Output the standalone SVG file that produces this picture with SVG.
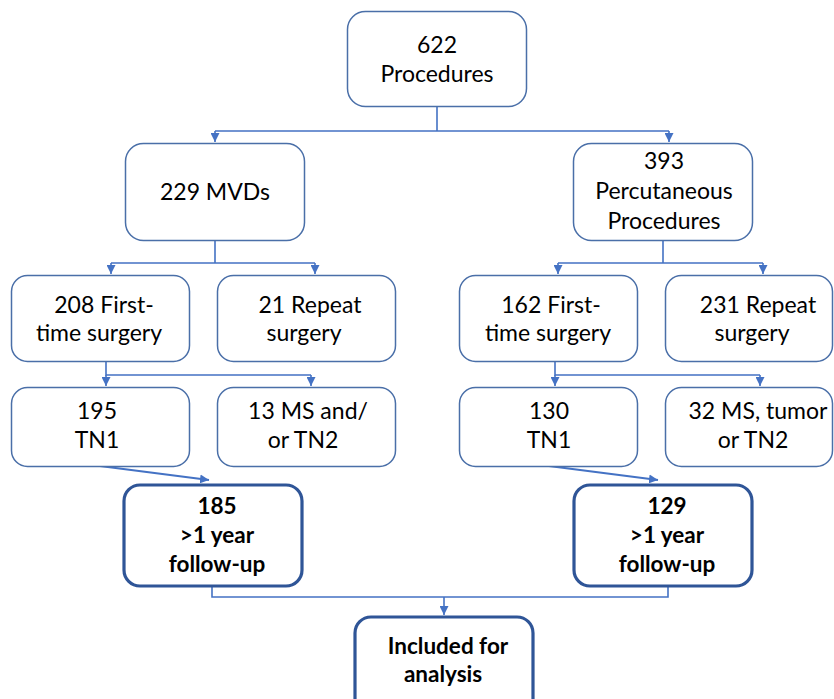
<svg xmlns="http://www.w3.org/2000/svg" width="834" height="699" viewBox="0 0 834 699">
<defs>
<marker id="ah" viewBox="0 0 10 10" refX="10" refY="5" markerWidth="9" markerHeight="9" markerUnits="userSpaceOnUse" orient="auto">
<path d="M0,0 L10,5 L0,10 z" fill="#4472C4"/>
</marker>
<style>
.n{fill:#fff;stroke:#4a6fa8;stroke-width:1.5}
.b{fill:#fff;stroke:#2f5597;stroke-width:3.2}
.t{font-family:Lato,"Liberation Sans",sans-serif;font-size:23px;fill:#000;text-anchor:middle}
.tb{font-family:Lato,"Liberation Sans",sans-serif;font-size:22.5px;font-weight:bold;fill:#000;text-anchor:middle}
.c{fill:none;stroke:#4472C4;stroke-width:1.6}
.d{fill:none;stroke:#4472C4;stroke-width:2.2}
</style>
</defs>
<rect width="834" height="699" fill="#fff"/>
<g id="connectors">
<path class="c" d="M437,107 V131 M215,131 H669"/>
<path class="c" d="M215,131 V142" marker-end="url(#ah)"/>
<path class="c" d="M669,131 V142" marker-end="url(#ah)"/>
<path class="c" d="M215,240 V263 M111,263 H315"/>
<path class="c" d="M111,263 V274" marker-end="url(#ah)"/>
<path class="c" d="M315,263 V274" marker-end="url(#ah)"/>
<path class="c" d="M663,240 V263 M558,263 H763"/>
<path class="c" d="M558,263 V274" marker-end="url(#ah)"/>
<path class="c" d="M763,263 V274" marker-end="url(#ah)"/>
<path class="c" d="M106,361 V375 H311"/>
<path class="c" d="M106,375 V386" marker-end="url(#ah)"/>
<path class="c" d="M311,375 V386" marker-end="url(#ah)"/>
<path class="c" d="M555,361 V375 H760"/>
<path class="c" d="M555,375 V386" marker-end="url(#ah)"/>
<path class="c" d="M760,375 V386" marker-end="url(#ah)"/>
<path class="d" d="M100,466 L209,480" marker-end="url(#ah)"/>
<path class="d" d="M549,466 L658,480" marker-end="url(#ah)"/>
<path class="c" d="M212,586 V597 H668 V586"/>
<path class="c" d="M444,597 V615" marker-end="url(#ah)"/>
</g>
<g id="n622">
<rect class="n" x="347.5" y="11.5" width="179" height="95" rx="18"/>
<text class="t" x="437" y="53">622</text>
<text class="t" x="437" y="82">Procedures</text>
</g>
<g id="mvd">
<rect class="n" x="125.5" y="143.5" width="179" height="97" rx="18"/>
<text class="t" x="215" y="200">229 MVDs</text>
</g>
<g id="perc">
<rect class="n" x="573.5" y="143.5" width="179" height="97" rx="18"/>
<text class="t" x="664" y="169">393</text>
<text class="t" x="664" y="199">Percutaneous</text>
<text class="t" x="664" y="229">Procedures</text>
</g>
<g id="mvdFirst">
<rect class="n" x="11.5" y="275.5" width="178" height="86" rx="16"/>
<text class="t" x="104" y="313">208 First-</text>
<text class="t" x="99" y="341">time surgery</text>
</g>
<g id="mvdRepeat">
<rect class="n" x="217.5" y="275.5" width="178" height="86" rx="16"/>
<text class="t" x="310" y="313">21 Repeat</text>
<text class="t" x="304" y="341">surgery</text>
</g>
<g id="percFirst">
<rect class="n" x="459.5" y="275.5" width="178" height="86" rx="16"/>
<text class="t" x="551" y="313">162 First-</text>
<text class="t" x="548" y="341">time surgery</text>
</g>
<g id="percRepeat">
<rect class="n" x="665.5" y="275.5" width="167" height="86" rx="16"/>
<text class="t" x="758" y="313">231 Repeat</text>
<text class="t" x="752" y="341">surgery</text>
</g>
<g id="mvdTN1">
<rect class="n" x="11.5" y="387.5" width="178" height="79" rx="16"/>
<text class="t" x="97" y="419">195</text>
<text class="t" x="97" y="448">TN1</text>
</g>
<g id="mvdMS">
<rect class="n" x="217.5" y="387.5" width="178" height="79" rx="16"/>
<text class="t" x="308" y="419">13 MS and/</text>
<text class="t" x="303" y="448">or TN2</text>
</g>
<g id="percTN1">
<rect class="n" x="459.5" y="387.5" width="178" height="79" rx="16"/>
<text class="t" x="549" y="419">130</text>
<text class="t" x="549" y="448">TN1</text>
</g>
<g id="percMS">
<rect class="n" x="665.5" y="387.5" width="167" height="79" rx="16"/>
<text class="t" x="758" y="419">32 MS, tumor</text>
<text class="t" x="753" y="448">or TN2</text>
</g>
<g id="fu185">
<rect class="b" x="124" y="485" width="178" height="101" rx="16"/>
<text class="tb" x="217" y="514">185</text>
<text class="tb" x="217" y="543">&gt;1 year</text>
<text class="tb" x="217" y="572">follow-up</text>
</g>
<g id="fu129">
<rect class="b" x="574" y="485" width="178" height="101" rx="16"/>
<text class="tb" x="667" y="514">129</text>
<text class="tb" x="667" y="543">&gt;1 year</text>
<text class="tb" x="667" y="572">follow-up</text>
</g>
<g id="included">
<rect class="b" x="355" y="617" width="178" height="100" rx="16"/>
<text class="tb" x="448" y="654">Included for</text>
<text class="tb" x="443" y="682">analysis</text>
</g>
</svg>
